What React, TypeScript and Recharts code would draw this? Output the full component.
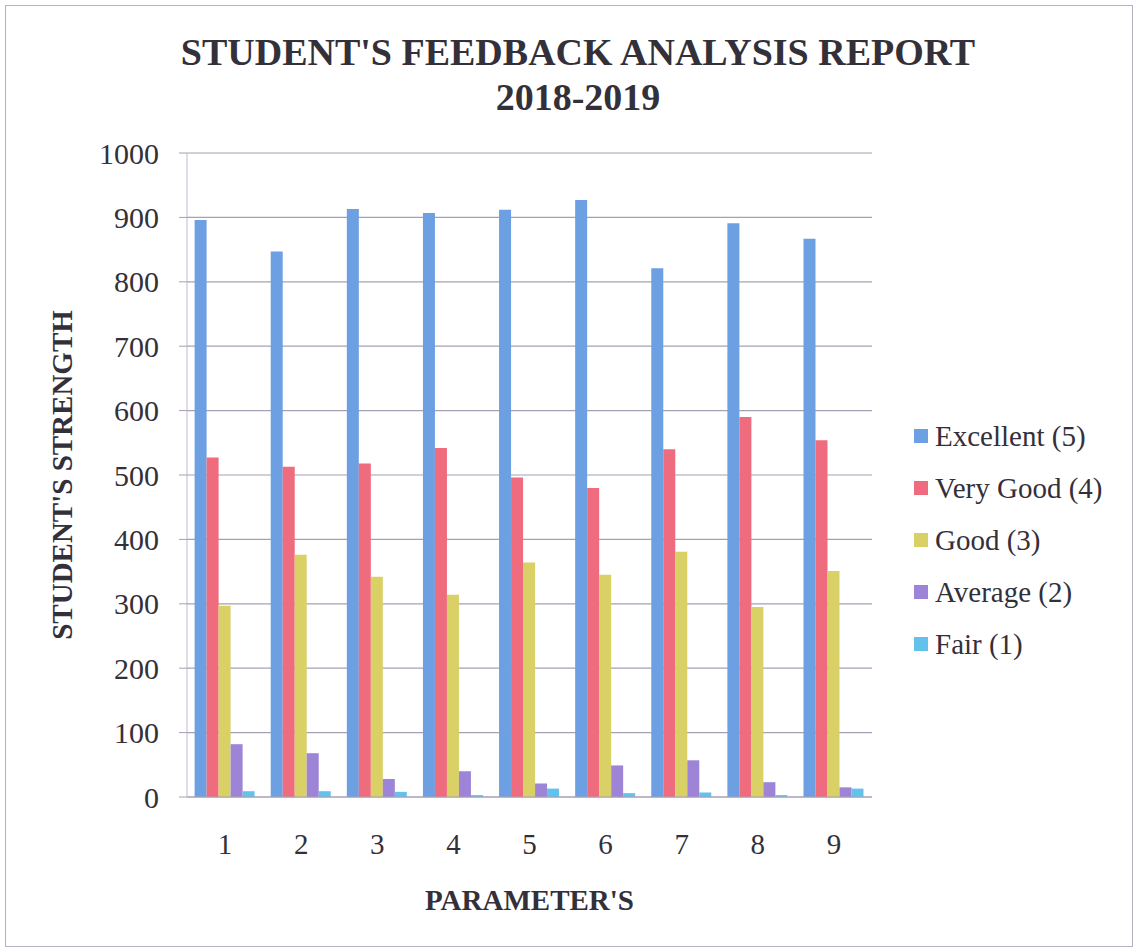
import { Bar, BarChart, CartesianGrid, Label, Legend, XAxis, YAxis } from "recharts";

const params = ["1", "2", "3", "4", "5", "6", "7", "8", "9"];
const excellent = [896, 847, 913, 907, 912, 927, 821, 891, 867];
const veryGood = [527, 513, 518, 542, 496, 480, 540, 590, 554];
const good = [297, 376, 342, 314, 364, 345, 381, 295, 351];
const average = [82, 68, 28, 40, 21, 49, 57, 23, 15];
const fair = [9, 9, 8, 3, 13, 6, 7, 3, 13];
const yTicks = [0, 100, 200, 300, 400, 500, 600, 700, 800, 900, 1000];

const series = [
  { key: "excellent", name: "Excellent (5)", color: "#6d9fe3" },
  { key: "veryGood", name: "Very Good (4)", color: "#ef6b7e" },
  { key: "good", name: "Good (3)", color: "#d9d166" },
  { key: "average", name: "Average (2)", color: "#9d84d6" },
  { key: "fair", name: "Fair (1)", color: "#63c2ec" },
];

const data = params.map((p, i) => ({
  param: p,
  excellent: excellent[i],
  veryGood: veryGood[i],
  good: good[i],
  average: average[i],
  fair: fair[i],
}));

const FONT = '"Liberation Serif", "Times New Roman", serif';
const INK = "#34303a";

// legend keeps the series order (recharts sorts the payload by name otherwise)
const LegendBox = ({ payload }: any) => {
  const items = [...(payload || [])].sort(
    (a: any, b: any) =>
      series.findIndex((s) => s.name === a.value) -
      series.findIndex((s) => s.name === b.value)
  );
  return (
    <div style={{ fontFamily: FONT, fontSize: 29, color: INK }}>
      {items.map((item: any) => (
        <div key={item.value} style={{ height: 52, display: "flex", alignItems: "center" }}>
          <span
            style={{
              width: 14,
              height: 14,
              background: item.color,
              display: "inline-block",
              marginRight: 7,
            }}
          />
          <span>{item.value}</span>
        </div>
      ))}
    </div>
  );
};

export default function App() {
  return (
    <div
      style={{
        position: "absolute",
        left: 0,
        top: 0,
        width: 1139,
        height: 952,
        background: "#fff",
      }}
    >
      <div
        style={{
          position: "absolute",
          left: 5,
          top: 5,
          width: 1128,
          height: 942,
          border: "1px solid #b7b0c4",
          boxSizing: "border-box",
        }}
      />
      <div
        style={{
          position: "absolute",
          left: 0,
          top: 30,
          width: 1156,
          textAlign: "center",
          fontFamily: FONT,
          fontWeight: "bold",
          fontSize: 38,
          lineHeight: "45px",
          color: INK,
        }}
      >
        STUDENT'S FEEDBACK ANALYSIS REPORT
        <br />
        2018-2019
      </div>
      <BarChart
        width={1139}
        height={952}
        data={data}
        margin={{ top: 153, right: 267, bottom: 35, left: 30 }}
        barCategoryGap="10%"
        barGap={0}
        style={{ position: "absolute", left: 0, top: 0 }}
      >
        <CartesianGrid vertical={false} stroke="#a89fb4" strokeWidth={1.2} />
        <XAxis
          dataKey="param"
          height={120}
          tickSize={0}
          tickMargin={36}
          axisLine={{ stroke: "#a89fb4" }}
          tick={{ fontFamily: FONT, fontSize: 29, fill: INK }}
        >
          <Label
            content={({ viewBox }: any) => (
              <text
                x={viewBox.x + viewBox.width / 2}
                y={910}
                textAnchor="middle"
                fontFamily={FONT}
                fontWeight="bold"
                fontSize={29}
                fill={INK}
              >
                PARAMETER'S
              </text>
            )}
          />
        </XAxis>
        <YAxis
          width={157}
          domain={[0, 1000]}
          ticks={yTicks}
          interval={0}
          tickSize={8}
          tickMargin={20}
          axisLine={{ stroke: "#c3b6d3" }}
          tickLine={{ stroke: "#a89fb4" }}
          tick={{ fontFamily: FONT, fontSize: 30, fill: INK }}
        >
          <Label
            content={({ viewBox }: any) => (
              <text
                x={0}
                y={0}
                transform={`translate(72, ${viewBox.y + viewBox.height / 2}) rotate(-90)`}
                textAnchor="middle"
                fontFamily={FONT}
                fontWeight="bold"
                fontSize={29}
                fill={INK}
              >
                STUDENT'S STRENGTH
              </text>
            )}
          />
        </YAxis>
        <Legend
          layout="vertical"
          align="center"
          verticalAlign="middle"
          content={<LegendBox />}
          wrapperStyle={{ left: 914, top: 410, width: 220 }}
        />
        {series.map((s) => (
          <Bar
            key={s.key}
            dataKey={s.key}
            name={s.name}
            fill={s.color}
            isAnimationActive={false}
          />
        ))}
      </BarChart>
    </div>
  );
}
